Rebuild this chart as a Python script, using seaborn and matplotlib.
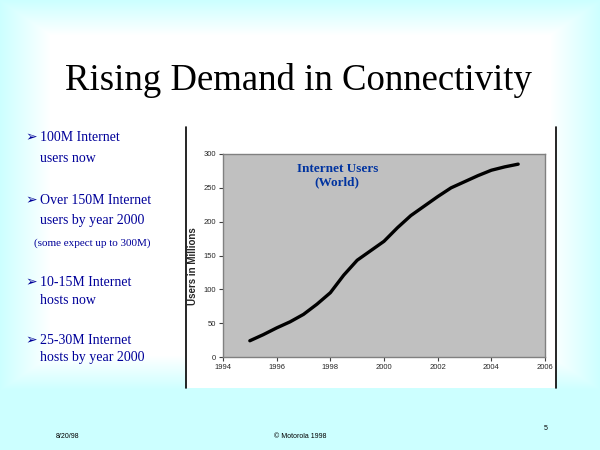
import numpy as np
import pandas as pd
import matplotlib.pyplot as plt
import seaborn as sns
from matplotlib.patches import Rectangle
from matplotlib.lines import Line2D

plt.switch_backend("Agg")

# valores (milhões de usuários)
years = [1995.0, 1995.5, 1996.0, 1996.5, 1997.0, 1997.5, 1998.0, 1998.5, 1999.0,
         1999.5, 2000.0, 2000.5, 2001.0, 2001.5, 2002.0, 2002.5, 2003.0, 2003.5,
         2004.0, 2004.5, 2005.0]
users = [24, 33, 43, 52, 63, 78, 95, 121, 143, 157, 171, 191, 209, 223, 237,
         250, 259, 268, 276, 281, 285]

x_ticks = [1994, 1996, 1998, 2000, 2002, 2004, 2006]
y_ticks = [0, 50, 100, 150, 200, 250, 300]

slide_title = "Rising Demand in Connectivity"
bullets = [
    ("\u27a2", "100M Internet", 137),
    ("", "users now", 159),
    ("\u27a2", "Over 150M Internet", 200),
    ("", "users by year 2000", 221),
    ("\u27a2", "10-15M Internet", 282),
    ("", "hosts now", 300),
    ("\u27a2", "25-30M Internet", 340),
    ("", "hosts by year 2000", 358),
]
note = "(some expect up to 300M)"

W, H = 600, 450
CYAN = np.array([0.80, 1.0, 1.0])
NAVY = "#000099"


def fy(py):
    return 1 - py / H


sns.set_theme(style="white")
plt.rcParams["font.family"] = ["Liberation Serif", "DejaVu Sans"]

fig = plt.figure(figsize=(6, 4.5), dpi=100)

# fundo em degradê (ciano nas bordas, branco no centro)
bg = fig.add_axes([0, 0, 1, 1], zorder=-10)
xx, yy = np.meshgrid(np.arange(W), np.arange(H))
fx = np.clip((np.abs(xx - 300) - 250) / 50, 0, 1)
fyy = np.clip((np.abs(yy - 195) - 160) / 35, 0, 1)
fade = np.maximum(fx, fyy)[..., None]
img = (1 - fade) * np.ones(3) + fade * CYAN
bg.imshow(img, extent=[0, W, H, 0], aspect="auto")
bg.set_xlim(0, W)
bg.set_ylim(H, 0)
bg.axis("off")

# caixa branca do gráfico
bg.add_patch(Rectangle((186, 127), 370, 261, facecolor="white", edgecolor="none"))
bg.add_line(Line2D([186, 186], [127, 388], color="black", lw=1.2))
bg.add_line(Line2D([556, 556], [127, 388], color="black", lw=1.2))

# título
fig.text(0.497, fy(81), slide_title, ha="center", va="center", fontsize=26.5, color="black")

# marcadores
for arrow, txt, py in bullets:
    if arrow:
        fig.text(25 / W, fy(py), arrow, ha="left", va="center", fontsize=10,
                 color=NAVY, family=["DejaVu Sans"], fontweight="bold")
    fig.text(40 / W, fy(py), txt, ha="left", va="center", fontsize=10, color=NAVY)
fig.text(34 / W, fy(243), note, ha="left", va="center", fontsize=8, color=NAVY)

# rodapé
foot = dict(fontsize=5, color="black", family=["Liberation Sans"], va="center")
fig.text(68 / W, fy(436), "8/20/98", ha="center", **foot)
fig.text(300 / W, fy(436), "\u00a9 Motorola 1998", ha="center", **foot)
fig.text(546 / W, fy(429), "5", ha="center", **foot)

# gráfico
ax = fig.add_axes([223 / W, fy(357), (545 - 223) / W, (357 - 154) / H])
df = pd.DataFrame({"year": years, "users": users})
sns.lineplot(data=df, x="year", y="users", ax=ax, color="black", linewidth=2.4)

ax.set_facecolor("#C0C0C0")
ax.set_xlim(1994, 2006)
ax.set_ylim(0, 300)
ax.set_xticks(x_ticks)
ax.set_yticks(y_ticks)
ax.set_xticklabels([str(v) for v in x_ticks])
ax.set_yticklabels([str(v) for v in y_ticks])
ax.tick_params(axis="both", direction="out", length=3, width=0.8, color="#404040",
               labelsize=5.5, pad=2, bottom=True, left=True)
for lab in ax.get_xticklabels() + ax.get_yticklabels():
    lab.set_family(["Liberation Sans"])
for sp in ax.spines.values():
    sp.set_color("#808080")
    sp.set_linewidth(1)
ax.set_xlabel("")
ax.set_ylabel("Users in Millions", fontsize=7, fontweight="bold",
              family=["Liberation Sans"])
ax.yaxis.set_label_coords(-0.078, 0.45)
ax.text(0.355, 0.955, "Internet Users\n(World)", transform=ax.transAxes, ha="center",
        va="top", fontsize=9.5, fontweight="bold", color="#0033A0", linespacing=1.1)

fig.savefig("out.png", dpi=100)
plt.close(fig)
